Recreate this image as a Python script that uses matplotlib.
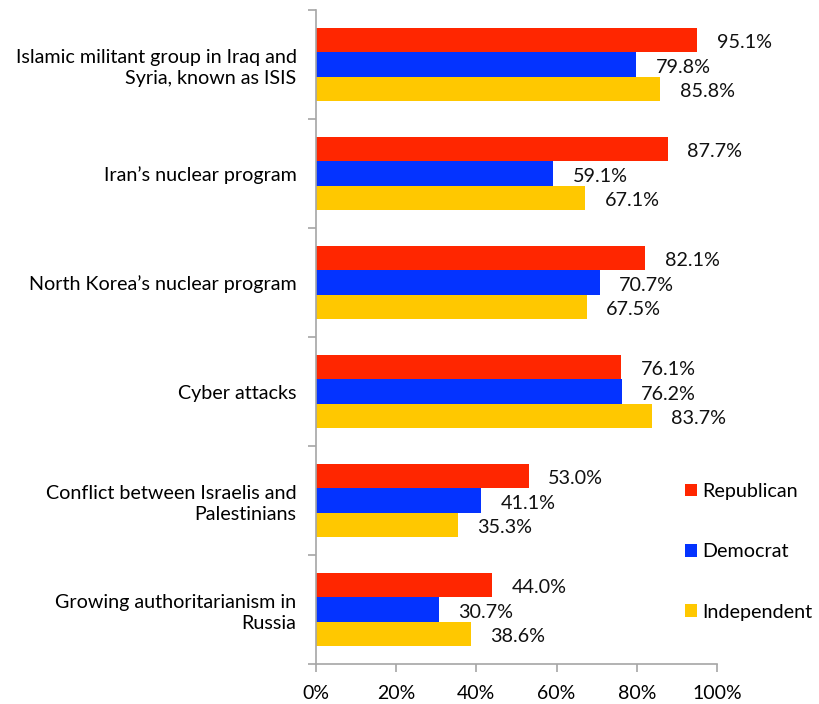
import matplotlib.pyplot as plt
import numpy as np
from matplotlib.patches import Patch

categories = [
    "Islamic militant group in Iraq and\nSyria, known as ISIS",
    "Iran\u2019s nuclear program",
    "North Korea\u2019s nuclear program",
    "Cyber attacks",
    "Conflict between Israelis and\nPalestinians",
    "Growing authoritarianism in\nRussia",
]
republican = [95.1, 87.7, 82.1, 76.1, 53.0, 44.0]
democrat = [79.8, 59.1, 70.7, 76.2, 41.1, 30.7]
independent = [85.8, 67.1, 67.5, 83.7, 35.3, 38.6]
series_names = ["Republican", "Democrat", "Independent"]
colors = ["#FF2600", "#0433FF", "#FFC800"]
xticks = [0, 20, 40, 60, 80, 100]

plt.rcParams['font.family'] = ['Lato', 'DejaVu Sans']

fig = plt.figure(figsize=(8.19, 7.04), dpi=100)
ax = fig.add_axes([316 / 819, 40 / 704, 401 / 819, 654 / 704])

n = len(categories)
centers = np.arange(n)
bh = 0.223
offsets = [-bh, 0, bh]
for vals, off, col in zip([republican, democrat, independent], offsets, colors):
    ypos = centers + off
    ax.barh(ypos, vals, height=bh, color=col, edgecolor='none')
    for y, v in zip(ypos, vals):
        ax.annotate(f"{v:.1f}%", (v, y), xytext=(14, -2), textcoords='offset points',
                    ha='left', va='center', fontsize=14.2, color='#111111')

ax.set_ylim(n - 0.5, -0.5)
ax.set_xlim(0, 100)
ax.set_xticks(xticks)
ax.set_xticklabels([f"{t}%" for t in xticks], fontsize=14)
ax.set_yticks(centers)
ax.set_yticklabels(categories, fontsize=14.2, linespacing=1.3)
ax.set_yticks(np.arange(n + 1) - 0.5, minor=True)

for side in ['top', 'right']:
    ax.spines[side].set_visible(False)
for side in ['left', 'bottom']:
    ax.spines[side].set_color('#A6A6A6')
    ax.spines[side].set_linewidth(1.2)
ax.tick_params(axis='y', which='major', length=0, pad=14)
ax.tick_params(axis='y', which='minor', length=6, color='#A6A6A6', width=1.2)
ax.tick_params(axis='x', length=6, color='#A6A6A6', width=1.2, pad=9)

handles = [Patch(facecolor=c, edgecolor='none') for c in colors]
fig.legend(handles, series_names, loc='upper left', bbox_to_anchor=(677 / 819, 1 - 475 / 704),
           frameon=False, fontsize=14.2, labelspacing=2.2, handlelength=0.6,
           handleheight=0.6, handletextpad=0.3, borderaxespad=0)

fig.savefig("out.png", dpi=100)
